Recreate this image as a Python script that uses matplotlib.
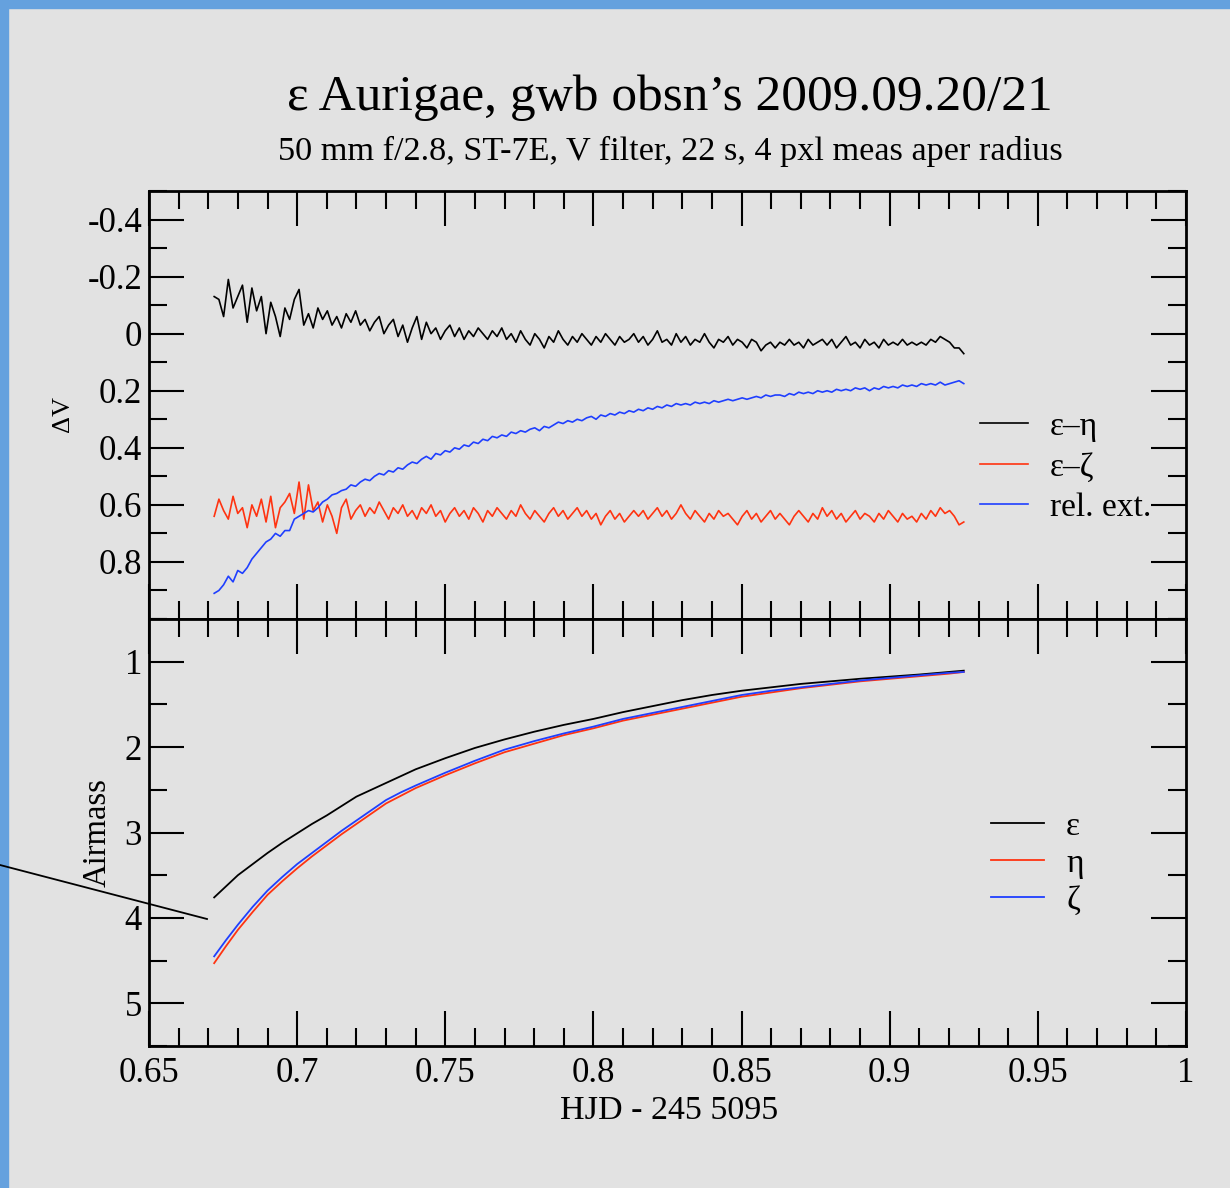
import numpy as np
import matplotlib
matplotlib.use("Agg")
import matplotlib.pyplot as plt
from matplotlib.ticker import MultipleLocator, FixedLocator
from matplotlib.patches import Rectangle
from matplotlib.lines import Line2D

plt.rcParams['font.family'] = ['Liberation Serif', 'DejaVu Serif']
plt.rcParams['axes.unicode_minus'] = False

# ---- top panel: differential magnitudes (160 evenly spaced frames) ----
t_first = 0.672
t_last = 0.925

eps_eta = [
    -0.13, -0.12, -0.06, -0.19, -0.09, -0.13, -0.17, -0.04, -0.16, -0.08,
    -0.13, 0.00, -0.11, -0.06, 0.01, -0.09, -0.05, -0.12, -0.155, -0.03,
    -0.07, -0.02, -0.09, -0.05, -0.08, -0.03, -0.06, -0.02, -0.07, -0.04,
    -0.08, -0.03, -0.05, -0.01, -0.04, -0.06, 0.00, -0.03, -0.05, 0.01,
    -0.03, 0.03, -0.02, -0.06, 0.02, -0.04, 0.00, -0.02, 0.02, -0.01,
    -0.03, 0.01, -0.02, 0.02, -0.01, 0.01, -0.02, 0.00, 0.02, -0.01,
    0.01, -0.02, 0.02, 0.00, 0.03, -0.01, 0.02, 0.04, 0.00, 0.02,
    0.05, 0.01, 0.03, -0.01, 0.02, 0.04, 0.01, 0.03, 0.00, 0.02,
    0.04, 0.01, 0.03, 0.00, 0.02, 0.04, 0.01, 0.03, 0.02, 0.00,
    0.03, 0.01, 0.04, 0.02, -0.01, 0.03, 0.02, 0.04, 0.00, 0.03,
    0.01, 0.04, 0.02, 0.03, 0.00, 0.03, 0.05, 0.02, 0.03, 0.01,
    0.04, 0.02, 0.03, 0.05, 0.02, 0.03, 0.06, 0.04, 0.03, 0.05,
    0.03, 0.04, 0.02, 0.04, 0.03, 0.05, 0.02, 0.04, 0.03, 0.02,
    0.04, 0.02, 0.05, 0.03, 0.01, 0.04, 0.03, 0.05, 0.02, 0.04,
    0.03, 0.05, 0.02, 0.04, 0.03, 0.04, 0.02, 0.04, 0.03, 0.04,
    0.03, 0.04, 0.02, 0.03, 0.01, 0.02, 0.03, 0.05, 0.05, 0.07,
]

eps_zeta = [
    0.64, 0.58, 0.62, 0.65, 0.57, 0.63, 0.61, 0.68, 0.60, 0.64,
    0.58, 0.66, 0.57, 0.68, 0.61, 0.59, 0.56, 0.63, 0.52, 0.65,
    0.53, 0.62, 0.59, 0.66, 0.60, 0.64, 0.70, 0.61, 0.58, 0.65,
    0.62, 0.60, 0.64, 0.61, 0.63, 0.59, 0.62, 0.65, 0.61, 0.63,
    0.60, 0.64, 0.62, 0.65, 0.61, 0.63, 0.60, 0.64, 0.62, 0.66,
    0.63, 0.61, 0.64, 0.62, 0.65, 0.61, 0.63, 0.66, 0.62, 0.64,
    0.61, 0.63, 0.65, 0.62, 0.64, 0.60, 0.63, 0.65, 0.62, 0.64,
    0.66, 0.63, 0.61, 0.64, 0.62, 0.65, 0.63, 0.61, 0.64, 0.62,
    0.65, 0.63, 0.67, 0.64, 0.62, 0.65, 0.63, 0.66, 0.64, 0.62,
    0.64, 0.62, 0.65, 0.63, 0.61, 0.64, 0.62, 0.65, 0.63, 0.60,
    0.63, 0.65, 0.62, 0.64, 0.66, 0.63, 0.65, 0.62, 0.64, 0.63,
    0.65, 0.67, 0.64, 0.62, 0.65, 0.63, 0.66, 0.64, 0.62, 0.65,
    0.63, 0.65, 0.67, 0.64, 0.62, 0.64, 0.66, 0.63, 0.65, 0.61,
    0.64, 0.62, 0.65, 0.63, 0.66, 0.64, 0.62, 0.65, 0.63, 0.64,
    0.66, 0.63, 0.65, 0.62, 0.64, 0.66, 0.63, 0.65, 0.64, 0.66,
    0.63, 0.65, 0.62, 0.64, 0.61, 0.63, 0.62, 0.64, 0.67, 0.66,
]

rel_ext = [
    0.91, 0.90, 0.88, 0.85, 0.87, 0.83, 0.84, 0.82, 0.79, 0.77,
    0.75, 0.73, 0.72, 0.70, 0.71, 0.69, 0.69, 0.65, 0.64, 0.63,
    0.62, 0.625, 0.61, 0.59, 0.58, 0.565, 0.56, 0.55, 0.545, 0.53,
    0.535, 0.52, 0.51, 0.515, 0.50, 0.49, 0.495, 0.48, 0.485, 0.47,
    0.475, 0.46, 0.45, 0.455, 0.44, 0.43, 0.44, 0.42, 0.425, 0.41,
    0.415, 0.40, 0.405, 0.39, 0.395, 0.38, 0.385, 0.37, 0.375, 0.36,
    0.365, 0.355, 0.36, 0.345, 0.35, 0.34, 0.345, 0.335, 0.33, 0.34,
    0.325, 0.33, 0.32, 0.31, 0.315, 0.305, 0.31, 0.30, 0.305, 0.295,
    0.29, 0.30, 0.285, 0.29, 0.28, 0.285, 0.275, 0.28, 0.27, 0.275,
    0.265, 0.27, 0.26, 0.265, 0.255, 0.26, 0.25, 0.255, 0.245, 0.25,
    0.245, 0.25, 0.24, 0.245, 0.24, 0.245, 0.235, 0.24, 0.235, 0.23,
    0.235, 0.23, 0.225, 0.23, 0.225, 0.22, 0.225, 0.215, 0.22, 0.215,
    0.215, 0.22, 0.21, 0.215, 0.205, 0.21, 0.205, 0.21, 0.20, 0.205,
    0.20, 0.205, 0.195, 0.20, 0.195, 0.20, 0.19, 0.195, 0.19, 0.20,
    0.19, 0.195, 0.185, 0.19, 0.185, 0.19, 0.18, 0.185, 0.18, 0.185,
    0.175, 0.18, 0.175, 0.18, 0.17, 0.18, 0.175, 0.17, 0.165, 0.175,
]

# ---- bottom panel: airmass ----
am_time = [0.672, 0.676, 0.68, 0.685, 0.69, 0.695, 0.70, 0.705, 0.71, 0.715,
           0.72, 0.725, 0.73, 0.735, 0.74, 0.75, 0.76, 0.77, 0.78, 0.79,
           0.80, 0.81, 0.82, 0.83, 0.84, 0.85, 0.86, 0.87, 0.88, 0.89,
           0.90, 0.91, 0.92, 0.925]
am_eps = [3.76, 3.63, 3.50, 3.37, 3.24, 3.12, 3.01, 2.90, 2.80, 2.69,
          2.58, 2.50, 2.42, 2.34, 2.26, 2.13, 2.01, 1.91, 1.82, 1.74,
          1.67, 1.59, 1.52, 1.45, 1.39, 1.34, 1.30, 1.26, 1.23, 1.20,
          1.175, 1.15, 1.12, 1.105]
am_eta = [4.53, 4.33, 4.14, 3.93, 3.73, 3.57, 3.42, 3.28, 3.15, 3.02,
          2.90, 2.78, 2.66, 2.57, 2.48, 2.33, 2.19, 2.06, 1.96, 1.86,
          1.78, 1.69, 1.62, 1.55, 1.48, 1.41, 1.36, 1.31, 1.27, 1.23,
          1.20, 1.17, 1.14, 1.12]
am_zeta = [4.45, 4.26, 4.08, 3.87, 3.68, 3.52, 3.37, 3.24, 3.11, 2.98,
           2.86, 2.74, 2.62, 2.53, 2.45, 2.30, 2.16, 2.03, 1.93, 1.84,
           1.76, 1.67, 1.60, 1.53, 1.46, 1.39, 1.34, 1.30, 1.26, 1.22,
           1.19, 1.16, 1.13, 1.12]

x_ticks = [0.65, 0.7, 0.75, 0.8, 0.85, 0.9, 0.95, 1.0]
x_labels = ['0.65', '0.7', '0.75', '0.8', '0.85', '0.9', '0.95', '1']
dv_ticks = [-0.4, -0.2, 0, 0.2, 0.4, 0.6, 0.8]
dv_labels = ['-0.4', '-0.2', '0', '0.2', '0.4', '0.6', '0.8']
am_ticks = [1, 2, 3, 4, 5]

t = np.linspace(t_first, t_last, len(eps_eta))

BG = '#e2e2e2'
RED = '#ff3311'
BLUE = '#1f3fff'
FS = 25

fig = plt.figure(figsize=(12.3, 11.88), dpi=100)
fig.patch.set_facecolor(BG)
# blue frame strips on top and left edge
fig.patches.append(Rectangle((0, 1 - 8 / 1188), 1, 8 / 1188, transform=fig.transFigure,
                             color='#65a1de', zorder=0))
fig.patches.append(Rectangle((0, 0), 7.5 / 1230, 1, transform=fig.transFigure,
                             color='#65a1de', zorder=0))

ax1 = fig.add_axes([149 / 1230, 1 - 619 / 1188, 1037 / 1230, 428 / 1188])
ax2 = fig.add_axes([149 / 1230, 1 - 1046 / 1188, 1037 / 1230, 427 / 1188])


def style(ax):
    ax.set_facecolor(BG)
    for s in ax.spines.values():
        s.set_linewidth(2)
    ax.set_xlim(0.65, 1.0)
    ax.xaxis.set_major_locator(FixedLocator(x_ticks))
    ax.xaxis.set_minor_locator(MultipleLocator(0.01))
    ax.tick_params(which='both', direction='in', top=True, right=True,
                   width=1.5, labelsize=FS, pad=8)
    ax.tick_params(axis='y', which='both', pad=5)
    ax.tick_params(which='major', length=25)
    ax.tick_params(which='minor', length=13)


style(ax1)
ax1.plot(t, eps_eta, color='black', lw=1.2, label='\u03b5\u2013\u03b7')
ax1.plot(t, eps_zeta, color=RED, lw=1.2, label='\u03b5\u2013\u03b6')
ax1.plot(t, rel_ext, color=BLUE, lw=1.2, label='rel. ext.')
ax1.set_ylim(1.0, -0.5)
ax1.yaxis.set_major_locator(FixedLocator(dv_ticks))
ax1.set_yticklabels(dv_labels)
ax1.yaxis.set_minor_locator(MultipleLocator(0.1))
ax1.tick_params(axis='x', labelbottom=False)
ax1.legend(loc='upper left', bbox_to_anchor=(0.801, 0.485), frameon=False,
           fontsize=24, handlelength=1.45, handletextpad=0.65, labelspacing=0.3,
           borderpad=0, borderaxespad=0)

style(ax2)
ax2.plot(am_time, am_eps, color='black', lw=1.3, label='\u03b5')
ax2.plot(am_time, am_eta, color=RED, lw=1.3, label='\u03b7')
ax2.plot(am_time, am_zeta, color=BLUE, lw=1.3, label='\u03b6')
ax2.set_ylim(5.5, 0.5)
ax2.yaxis.set_major_locator(FixedLocator(am_ticks))
ax2.yaxis.set_minor_locator(MultipleLocator(0.5))
ax2.set_xticklabels(x_labels)
ax2.legend(loc='upper left', bbox_to_anchor=(0.812, 0.55), frameon=False,
           fontsize=24, handlelength=1.6, handletextpad=0.65, labelspacing=0.2,
           borderpad=0, borderaxespad=0)

fig.text(670 / 1230, 1 - 110 / 1188, '\u03b5 Aurigae, gwb obsn\u2019s 2009.09.20/21',
         ha='center', va='baseline', fontsize=37)
fig.text(670 / 1230, 1 - 160 / 1188,
         '50 mm f/2.8, ST-7E, V filter, 22 s, 4 pxl meas aper radius',
         ha='center', va='baseline', fontsize=24.7)
fig.text(669 / 1230, 1 - 1119 / 1188, 'HJD - 245 5095', ha='center', va='baseline',
         fontsize=24.5)
fig.text(63 / 1230, 1 - 414 / 1188, '\u0394V', rotation=90, ha='center', va='center',
         fontsize=19)
fig.text(97 / 1230, 1 - 833 / 1188, 'Airmass', rotation=90, ha='center', va='center',
         fontsize=23.5)

# stray pointer line in the original
fig.add_artist(Line2D([0, 207 / 1230], [1 - 865 / 1188, 1 - 919 / 1188],
                      transform=fig.transFigure, color='black', lw=1.3))

fig.savefig('out.png', dpi=100, facecolor=BG)
